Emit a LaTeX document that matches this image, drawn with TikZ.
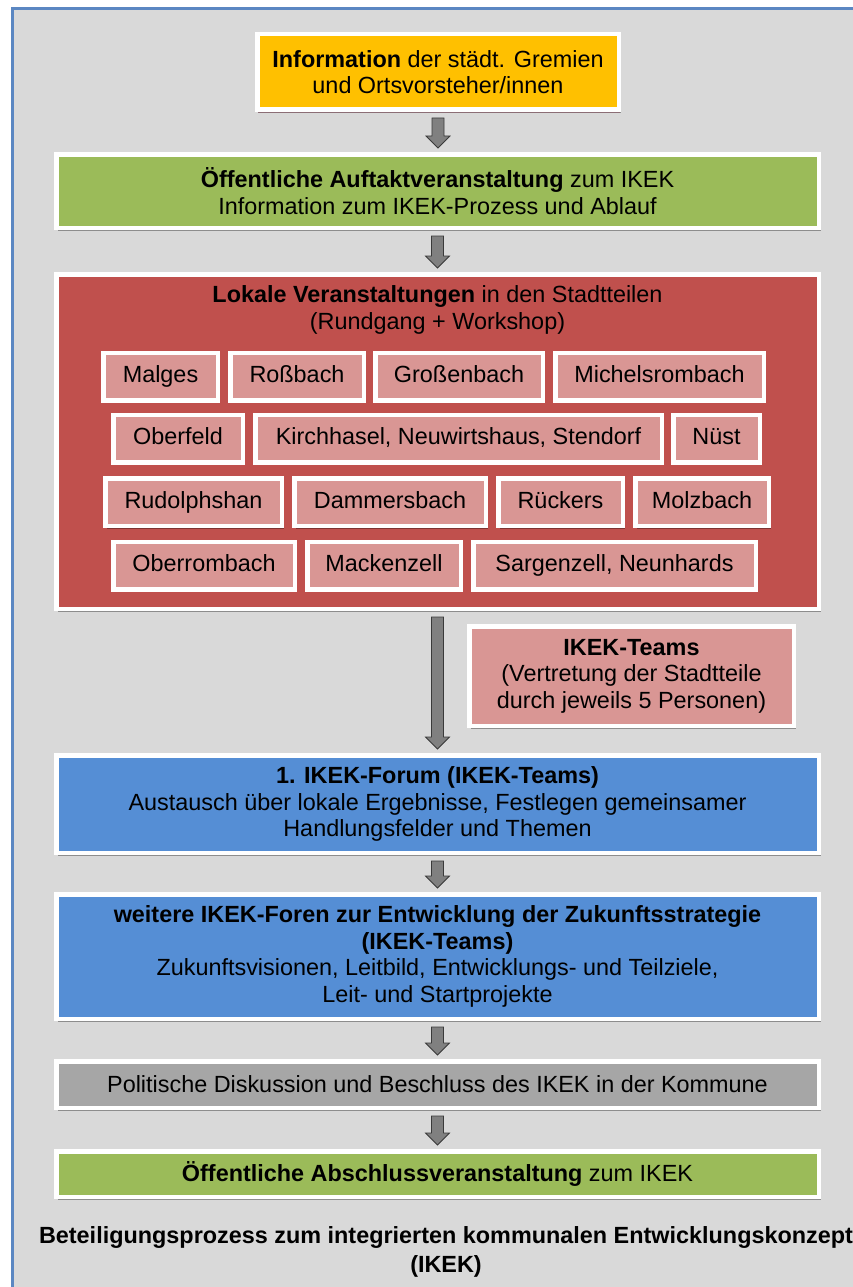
\documentclass[tikz,border=0pt]{standalone}
\usepackage{fontspec}
\setmainfont{Liberation Sans}
\usetikzlibrary{shadows,calc}
\definecolor{bgc}{HTML}{D9D9D9}
\definecolor{framec}{HTML}{5B87C2}
\definecolor{orangec}{HTML}{FFC000}
\definecolor{greenc}{HTML}{9BBB59}
\definecolor{redc}{HTML}{C0504D}
\definecolor{pinkc}{HTML}{D99694}
\definecolor{bluec}{HTML}{558ED5}
\definecolor{grayc}{HTML}{A6A6A6}
\definecolor{arrowfill}{HTML}{808080}
\definecolor{arrowdraw}{HTML}{3A3A3A}
\definecolor{mauve}{HTML}{8C6E76}
\tikzset{
  box/.style={draw=white, line width=4.5pt, inner sep=0pt, align=center,
    drop shadow={shadow xshift=2pt, shadow yshift=-3pt, opacity=0.35, fill=black}},
  wide/.style={box, minimum width=762.5pt},
  small/.style={box, fill=pinkc, minimum width=#1-4.5pt, minimum height=47.5pt,
    text height=17pt, text depth=5pt},
  blockarrow/.style={fill=arrowfill, draw=arrowdraw, line width=0.8pt, line join=miter}
}
\newcommand\barrow[2]{%
  \path[blockarrow] let \p1=(#1.south), \p2=(#2.north) in
    (\x1-6pt,\y1-6pt) -- (\x1+6pt,\y1-6pt) -- (\x1+6pt,\y2+16pt) -- (\x1+12pt,\y2+16pt)
    -- (\x1,\y2+4pt) -- (\x1-12pt,\y2+16pt) -- (\x1-6pt,\y2+16pt) -- cycle;}
\begin{document}
\begin{tikzpicture}[x=1pt,y=-1pt,font=\fontsize{23.4}{26.5}\selectfont]
\useasboundingbox (0,0) rectangle (852,1287);
\fill[white] (0,0) rectangle (852,1287);
\draw[framec, line width=3pt, fill=bgc] (12,9) rectangle (890,1320);

% top box
\node[box, fill=orangec, minimum width=361.5pt, minimum height=75.5pt,
  drop shadow={shadow xshift=1pt, shadow yshift=-3pt, opacity=1, fill=mauve}] (info) at (438,72)
  {\textbf{Information} der städt. Gremien\\und Ortsvorsteher/innen};

\node[wide, fill=greenc, minimum height=73.5pt] (auftakt) at (437.5,191)
  {\textbf{Öffentliche Auftaktveranstaltung} zum IKEK\\Information zum IKEK-Prozess und Ablauf};

\node[wide, fill=redc, minimum height=334.5pt] (lokal) at (437.5,441.5) {};
\node[align=center, inner sep=0pt] (lokaltitle) at (437.5,310)
  {\textbf{Lokale Veranstaltungen} in den Stadtteilen\\(Rundgang + Workshop)};

% row 1
\node[small=119pt] (malges) at (160.5,376.5) {Malges};
\node[small=138pt] (rossbach) at (297,376.5) {Roßbach};
\node[small=172pt] (grossenbach) at (459,376.5) {Großenbach};
\node[small=213pt] (michelsrombach) at (659.5,376.5) {Michelsrombach};
% row 2
\node[small=134pt] (oberfeld) at (178,438.5) {Oberfeld};
\node[small=411pt] (kirchhasel) at (458.5,438.5) {Kirchhasel, Neuwirtshaus, Stendorf};
\node[small=91pt] (nuest) at (716.5,438.5) {Nüst};
% row 3
\node[small=181pt] (rudolphshan) at (193.5,502) {Rudolphshan};
\node[small=196pt] (dammersbach) at (390,502) {Dammersbach};
\node[small=129pt] (rueckers) at (560.5,502) {Rückers};
\node[small=138pt] (molzbach) at (702,502) {Molzbach};
% row 4
\node[small=186pt] (oberrombach) at (204,565.5) {Oberrombach};
\node[small=158pt] (mackenzell) at (384,565.5) {Mackenzell};
\node[small=287pt] (sargenzell) at (614.5,565.5) {Sargenzell, Neunhards};

\node[box, fill=pinkc, minimum width=324.5pt, minimum height=99.5pt] (teams) at (631.5,676)
  {\textbf{IKEK-Teams}\\(Vertretung der Stadtteile\\durch jeweils 5 Personen)};

\node[wide, fill=bluec, minimum height=97.5pt] (forum) at (437.5,804)
  {\textbf{1. IKEK-Forum (IKEK-Teams)}\\Austausch über lokale Ergebnisse, Festlegen gemeinsamer\\Handlungsfelder und Themen};

\node[wide, fill=bluec, minimum height=124.5pt] (foren) at (437.5,956.5)
  {\textbf{weitere IKEK-Foren zur Entwicklung der Zukunftsstrategie}\\\textbf{(IKEK-Teams)}\\Zukunftsvisionen, Leitbild, Entwicklungs- und Teilziele,\\Leit- und Startprojekte};

\node[wide, fill=grayc, minimum height=46.5pt] (politik) at (437.5,1084.5)
  {Politische Diskussion und Beschluss des IKEK in der Kommune};

\node[wide, fill=greenc, minimum height=45.5pt] (abschluss) at (437.5,1174)
  {\textbf{Öffentliche Abschlussveranstaltung} zum IKEK};

\node[align=center, inner sep=0pt, font=\fontsize{23.4}{29}\selectfont\bfseries] (caption) at (446,1251.5)
  {Beteiligungsprozess zum integrierten kommunalen Entwicklungskonzept\\(IKEK)};

\barrow{info}{auftakt}
\barrow{auftakt}{lokal}
\barrow{lokal}{forum}
\barrow{forum}{foren}
\barrow{foren}{politik}
\barrow{politik}{abschluss}
\end{tikzpicture}
\end{document}
